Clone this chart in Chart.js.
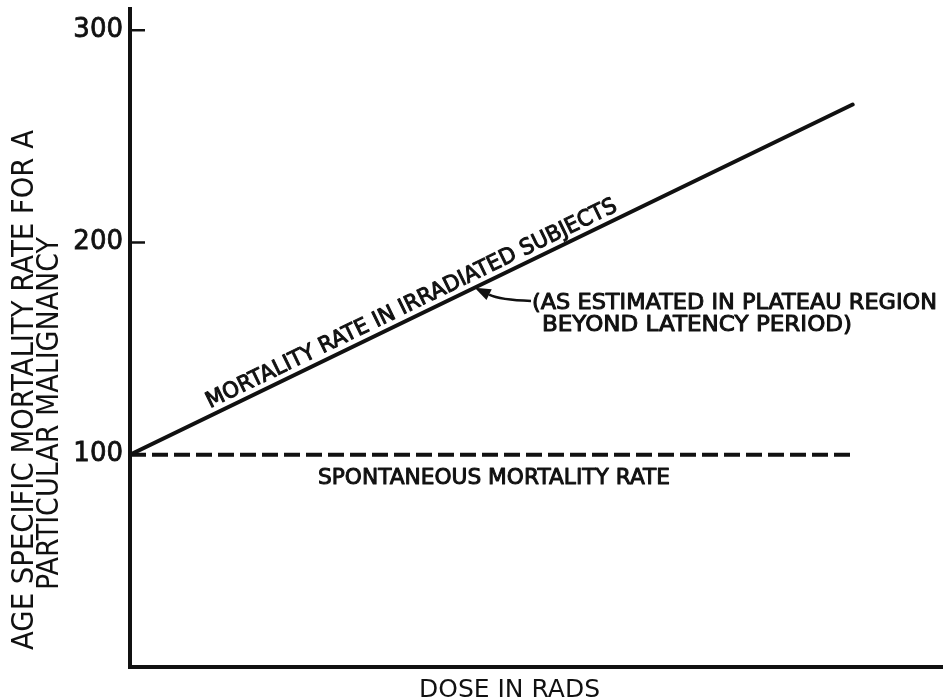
<!DOCTYPE html>
<html>
<head>
<meta charset="utf-8">
<script src="https://cdn.jsdelivr.net/npm/chart.js@4.4.0/dist/chart.umd.min.js"></script>
<style>
  html, body { margin: 0; padding: 0; background: #fff; }
  #wrap { width: 943px; height: 699px; position: relative; }
</style>
</head>
<body>
<div id="wrap"><canvas id="doseChart"></canvas></div>
<script>
// data
const doses = [0, 100];
const irradiatedRate = [100, 265];
const spontaneousRate = [100, 100];
const yTickValues = [100, 200, 300];
const arrowDose = 47.7;
const labelDoseRange = [11.5, 68];

const INK = '#111';
const FONT = '"DejaVu Sans", sans-serif';

// draw text squeezed/stretched to an exact width (hand lettering is condensed)
function fitText(ctx, text, x, y, width, size, angle, stroke) {
  ctx.save();
  ctx.font = size + 'px ' + FONT;
  const w = ctx.measureText(text).width;
  ctx.translate(x, y);
  if (angle) ctx.rotate(angle);
  ctx.scale(width / w, 1);
  ctx.fillStyle = INK;
  ctx.strokeStyle = INK;
  ctx.textBaseline = 'alphabetic';
  ctx.textAlign = 'left';
  ctx.fillText(text, 0, 0);
  if (stroke) {
    ctx.lineWidth = stroke;
    ctx.lineJoin = 'round';
    ctx.strokeText(text, 0, 0);
  }
  ctx.restore();
}

function rateAt(d) {
  return irradiatedRate[0] + (irradiatedRate[1] - irradiatedRate[0]) * (d - doses[0]) / (doses[1] - doses[0]);
}

const annotations = {
  id: 'annotations',
  afterDraw(chart) {
    const { ctx, scales: { x, y }, chartArea } = chart;

    // tick marks sit inside the axis
    ctx.save();
    ctx.strokeStyle = INK;
    ctx.lineWidth = 2.5;
    yTickValues.forEach(v => {
      const py = y.getPixelForValue(v);
      ctx.beginPath();
      ctx.moveTo(chartArea.left, py);
      ctx.lineTo(chartArea.left + 15, py);
      ctx.stroke();
    });
    ctx.restore();

    // label along the sloped line
    const p0 = { x: x.getPixelForValue(labelDoseRange[0]), y: y.getPixelForValue(rateAt(labelDoseRange[0])) };
    const p1 = { x: x.getPixelForValue(labelDoseRange[1]), y: y.getPixelForValue(rateAt(labelDoseRange[1])) };
    const ang = Math.atan2(p1.y - p0.y, p1.x - p0.x);
    const len = Math.hypot(p1.x - p0.x, p1.y - p0.y);
    const off = 7;
    fitText(ctx, 'MORTALITY RATE IN IRRADIATED SUBJECTS',
      p0.x + Math.sin(ang) * off, p0.y - Math.cos(ang) * off, len, 22, ang, 1);

    // spontaneous label under dashed line
    const yDash = y.getPixelForValue(spontaneousRate[0]);
    fitText(ctx, 'SPONTANEOUS MORTALITY RATE', 318, yDash + 29, 352, 22, 0, 1);

    // note and arrow
    fitText(ctx, '(AS ESTIMATED IN PLATEAU REGION', 532, 309, 405, 22, 0, 1);
    fitText(ctx, 'BEYOND LATENCY PERIOD)', 542, 331, 310, 22, 0, 1);

    const tip = { x: x.getPixelForValue(arrowDose), y: y.getPixelForValue(rateAt(arrowDose)) };
    const tail = { x: 531, y: 301 };
    const ctrl = { x: 500, y: 300 };
    const dir = Math.atan2(tip.y - ctrl.y, tip.x - ctrl.x);
    const headLen = 16, headW = 6;
    const base = { x: tip.x - Math.cos(dir) * headLen, y: tip.y - Math.sin(dir) * headLen };
    ctx.save();
    ctx.strokeStyle = INK;
    ctx.fillStyle = INK;
    ctx.lineWidth = 2.5;
    ctx.beginPath();
    ctx.moveTo(tail.x, tail.y);
    ctx.quadraticCurveTo(ctrl.x, ctrl.y, base.x, base.y);
    ctx.stroke();
    ctx.beginPath();
    ctx.moveTo(tip.x, tip.y);
    ctx.lineTo(base.x + Math.sin(dir) * headW, base.y - Math.cos(dir) * headW);
    ctx.lineTo(base.x - Math.sin(dir) * headW, base.y + Math.cos(dir) * headW);
    ctx.closePath();
    ctx.fill();
    ctx.restore();

    // axis titles
    fitText(ctx, 'AGE SPECIFIC MORTALITY RATE FOR A', 33, 650, 520, 31, -Math.PI / 2);
    fitText(ctx, 'PARTICULAR MALIGNANCY', 58, 590, 353, 31, -Math.PI / 2);
    fitText(ctx, 'DOSE IN RADS', 419, 697, 181, 25);
  }
};

const ctx = document.getElementById('doseChart').getContext('2d');
new Chart(ctx, {
  type: 'line',
  data: {
    datasets: [
      {
        label: 'Mortality rate in irradiated subjects',
        data: doses.map((d, i) => ({ x: d, y: irradiatedRate[i] })),
        borderColor: INK,
        borderWidth: 4,
        borderCapStyle: 'round',
        pointRadius: 0,
        fill: false,
      },
      {
        label: 'Spontaneous mortality rate',
        data: doses.map((d, i) => ({ x: d, y: spontaneousRate[i] })),
        borderColor: INK,
        borderWidth: 4,
        borderDash: [16, 6],
        pointRadius: 0,
        fill: false,
      }
    ]
  },
  options: {
    responsive: true,
    maintainAspectRatio: false,
    animation: false,
    layout: { padding: { top: 9, left: 0, right: 0, bottom: 0 } },
    plugins: {
      legend: { display: false },
      tooltip: { enabled: false },
    },
    scales: {
      x: {
        type: 'linear',
        min: 0,
        max: 112.5,
        ticks: { display: false },
        grid: { display: true, drawOnChartArea: false, drawTicks: false, color: 'rgba(0,0,0,0)' },
        border: { display: true, color: INK, width: 4 },
        afterFit: s => { s.height = 32; s.paddingLeft = 0; s.paddingRight = 0; },
      },
      y: {
        min: 0,
        max: 310,
        afterBuildTicks: s => { s.ticks = yTickValues.map(v => ({ value: v })); },
        ticks: {
          color: INK,
          padding: 7,
          textStrokeColor: INK,
          textStrokeWidth: 0.8,
          font: { family: FONT, size: 26 },
        },
        grid: { display: true, drawOnChartArea: false, drawTicks: false, color: 'rgba(0,0,0,0)' },
        border: { display: true, color: INK, width: 4 },
        afterFit: s => { s.width = 130; s.paddingTop = 0; s.paddingBottom = 0; },
      }
    }
  },
  plugins: [annotations]
});
</script>
</body>
</html>
